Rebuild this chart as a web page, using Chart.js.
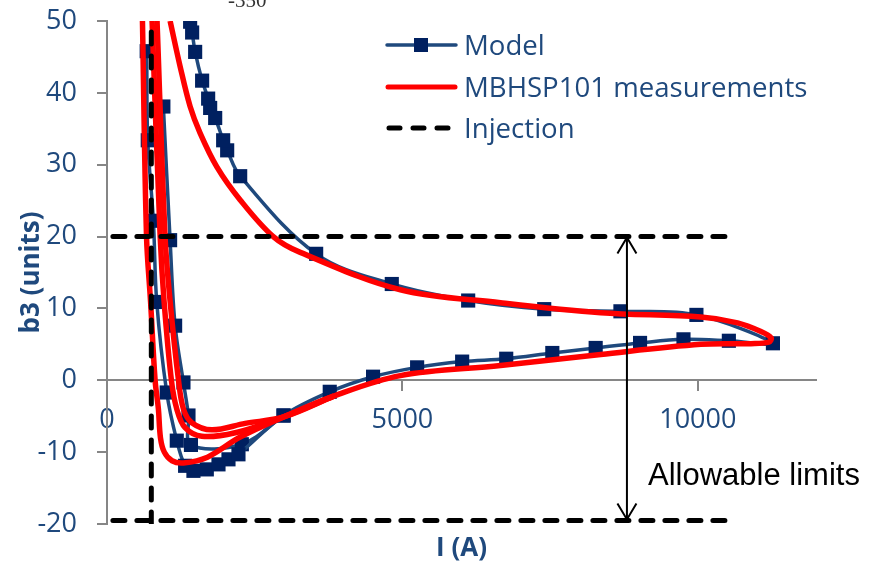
<!DOCTYPE html>
<html>
<head>
<meta charset="utf-8">
<script src="https://cdn.jsdelivr.net/npm/chart.js@4.4.1/dist/chart.umd.min.js"></script>
<style>
  html, body { margin: 0; padding: 0; background: #fff; }
  #wrap { width: 869px; height: 563px; position: relative; }
</style>
</head>
<body>
<div id="wrap"><canvas id="b3Chart"></canvas></div>
<script>
// tick labels
const xTickValues = [0, 5000, 10000];
const yTickValues = [-20, -10, 0, 10, 20, 30, 40, 50];

// Model: main loop (ramp up on the left, lower branch, tip, upper branch back)
const modelLoopI = [672, 690, 785, 842, 1011, 1181, 1322, 1463, 1689, 1887, 2056, 2225,
  2988, 3770, 4503, 5249, 6011, 6757, 7537, 8271, 9022, 9757, 10525, 11271,
  9976, 8690, 7400, 6113, 4820, 3540, 2254, 2034, 1966, 1831, 1746, 1712, 1610, 1492, 1441, 1407];
const modelLoopB = [45.8, 33.4, 22.2, 10.9, -1.7, -8.4, -11.9, -12.6, -12.4, -11.7, -11.0, -10.3,
  -4.9, -1.6, 0.5, 1.8, 2.6, 3.0, 3.8, 4.5, 5.2, 5.7, 5.5, 5.15,
  9.1, 9.6, 9.9, 11.1, 13.4, 17.6, 28.4, 32.0, 33.4, 36.5, 37.9, 39.2, 41.7, 45.7, 48.4, 49.9];
// Model: second ramp-up branch
const modelInnerI = [954, 1068, 1153, 1294, 1379, 1421, 2282, 2988];
const modelInnerB = [38.1, 19.5, 7.6, -0.3, -4.9, -9.0, -8.9, -4.9];

// MBHSP101 measurements: full cycle
const measLoopI = [600, 669, 737, 814, 870, 905, 970, 1100, 1294, 1700, 2254, 2988, 3836,
  4966, 6661, 8356, 10051, 10898, 11200, 11240, 11068, 10672, 10051, 8356, 6661, 4966,
  3271, 2814, 2254, 1859, 1576, 1407, 1237, 1068];
const measLoopB = [50, 20, 11, 0, -4, -8, -10.0, -11.2, -11.5, -10.7, -7.9, -5.1, -2.2,
  0.65, 2.05, 3.6, 5.0, 5.1, 5.3, 5.9, 6.8, 8.0, 8.8, 9.4, 10.8, 12.6,
  17.8, 20.0, 25.1, 29.7, 34.4, 38.1, 43.7, 50];
// MBHSP101 measurements: two further ramp-ups
const measRampBI = [763, 900, 966, 1090, 1181, 1322, 1605, 2169, 2988, 3836];
const measRampBB = [50, 20, 11, 0, -4.0, -6.6, -7.8, -7.3, -5.1, -2.2];
const measRampCI = [847, 983, 1068, 1210, 1294, 1435, 1775, 2339, 2988, 3836];
const measRampCB = [50, 20, 11, 0, -4.0, -5.9, -6.9, -6.0, -5.1, -2.2];

// Injection lines (nulls split the three segments)
const injectionI = [100, 10600, null, 750, 750, null, 100, 10600];
const injectionB = [20, 20, null, -20, 50, null, -19.5, -19.5];

// Allowable limits arrow
const limitsI = [8800, 8800];
const limitsB = [20, -19.5];

const blueText = '#1F497D';
const axisGray = '#868686';

function toPoints(xs, ys) {
  return xs.map((x, i) => ({ x: x, y: ys[i] }));
}

function noScalePadding(axis) {
  axis.paddingTop = 0;
  axis.paddingBottom = 0;
  axis.paddingLeft = 0;
  axis.paddingRight = 0;
}

Chart.defaults.font.family = '"Open Sans", sans-serif';

// legend, titles and the "Allowable limits" note
const extrasPlugin = {
  id: 'extras',
  afterDatasetsDraw(chart) {
    const { ctx, scales } = chart;
    const ax = scales.x.getPixelForValue(limitsI[0]);
    const yTop = scales.y.getPixelForValue(limitsB[0]);
    const yBot = scales.y.getPixelForValue(limitsB[1]);
    ctx.save();
    ctx.strokeStyle = '#000';
    ctx.lineWidth = 2;
    ctx.beginPath();
    ctx.moveTo(ax - 9.5, yTop + 17); ctx.lineTo(ax, yTop + 1); ctx.lineTo(ax + 9.5, yTop + 17);
    ctx.moveTo(ax - 9.5, yBot - 17); ctx.lineTo(ax, yBot - 1); ctx.lineTo(ax + 9.5, yBot - 17);
    ctx.stroke();
    ctx.restore();
  },
  afterDraw(chart) {
    const { ctx, chartArea } = chart;
    ctx.save();
    // legend samples
    ctx.lineCap = 'round';
    ctx.strokeStyle = '#1F497D';
    ctx.lineWidth = 3.5;
    ctx.beginPath(); ctx.moveTo(387, 45); ctx.lineTo(456, 45); ctx.stroke();
    ctx.fillStyle = '#002060';
    ctx.fillRect(414, 38, 14, 14);
    ctx.strokeStyle = '#FF0000';
    ctx.lineWidth = 5;
    ctx.beginPath(); ctx.moveTo(388, 87); ctx.lineTo(455, 87); ctx.stroke();
    ctx.strokeStyle = '#000';
    ctx.setLineDash([11, 13]);
    ctx.beginPath(); ctx.moveTo(389, 128); ctx.lineTo(452, 128); ctx.stroke();
    ctx.setLineDash([]);

    ctx.fillStyle = blueText;
    ctx.font = '27.6px "Open Sans"';
    ctx.textBaseline = 'alphabetic';
    ctx.textAlign = 'left';
    ctx.fillText('Model', 464, 55);
    ctx.fillText('MBHSP101 measurements', 464, 96.5);
    ctx.fillText('Injection', 464, 138);

    // x axis title at the bottom
    ctx.font = 'bold 26px "Open Sans"';
    ctx.textAlign = 'center';
    ctx.fillText('I (A)', (chartArea.left + chartArea.right) / 2, 556);

    // note
    ctx.fillStyle = '#000';
    ctx.font = '31px "Liberation Sans"';
    ctx.textAlign = 'left';
    ctx.fillText('Allowable limits', 648, 485);

    // clipped label at the very top
    ctx.fillStyle = '#333';
    ctx.font = '21px "Liberation Serif"';
    ctx.fillText('-350', 228, 7);
    ctx.restore();
  }
};

const ctx = document.getElementById('b3Chart').getContext('2d');

const b3Chart = new Chart(ctx, {
  type: 'scatter',
  data: {
    datasets: [
      {
        label: 'Allowable limits',
        data: toPoints(limitsI, limitsB),
        showLine: true,
        borderColor: '#000',
        borderWidth: 2,
        pointRadius: 0,
        order: 1
      },
      {
        label: 'Injection',
        data: toPoints(injectionI, injectionB),
        showLine: true,
        borderColor: '#000',
        borderWidth: 5,
        borderDash: [12, 12],
        borderCapStyle: 'round',
        pointRadius: 0,
        order: 2
      },
      {
        label: 'MBHSP101 measurements',
        data: toPoints(measLoopI, measLoopB),
        showLine: true,
        borderColor: '#FF0000',
        borderWidth: 5.5,
        tension: 0.35,
        pointRadius: 0,
        order: 3
      },
      {
        label: 'MBHSP101 measurements',
        data: toPoints(measRampBI, measRampBB),
        showLine: true,
        borderColor: '#FF0000',
        borderWidth: 5.5,
        tension: 0.35,
        pointRadius: 0,
        order: 3
      },
      {
        label: 'MBHSP101 measurements',
        data: toPoints(measRampCI, measRampCB),
        showLine: true,
        borderColor: '#FF0000',
        borderWidth: 5.5,
        tension: 0.35,
        pointRadius: 0,
        order: 3
      },
      {
        label: 'Model',
        data: toPoints(modelLoopI, modelLoopB),
        showLine: true,
        borderColor: '#1F497D',
        borderWidth: 3.5,
        tension: 0.35,
        pointStyle: 'rect',
        pointRadius: 10,
        pointBackgroundColor: '#002060',
        pointBorderColor: '#002060',
        pointBorderWidth: 0,
        order: 5
      },
      {
        label: 'Model',
        data: toPoints(modelInnerI, modelInnerB),
        showLine: true,
        borderColor: '#1F497D',
        borderWidth: 3.5,
        tension: 0.35,
        pointStyle: 'rect',
        pointRadius: 10,
        pointBackgroundColor: '#002060',
        pointBorderColor: '#002060',
        pointBorderWidth: 0,
        order: 5
      }
    ]
  },
  options: {
    responsive: true,
    maintainAspectRatio: false,
    animation: false,
    layout: { padding: { top: 21, right: 53, bottom: 39, left: 0 } },
    plugins: {
      legend: { display: false },
      tooltip: { enabled: false }
    },
    scales: {
      x: {
        type: 'linear',
        position: { y: 0 },
        min: 0,
        max: 12000,
        afterBuildTicks: axis => { axis.ticks = xTickValues.map(v => ({ value: v })); },
        afterFit: noScalePadding,
        border: { color: axisGray, width: 2 },
        grid: { drawOnChartArea: false, color: axisGray, lineWidth: 2, tickLength: 10 },
        ticks: { color: blueText, font: { size: 27 }, padding: 14, maxRotation: 0, callback: v => String(v) }
      },
      y: {
        type: 'linear',
        min: -20,
        max: 50,
        afterBuildTicks: axis => { axis.ticks = yTickValues.map(v => ({ value: v })); },
        afterFit: axis => { noScalePadding(axis); axis.width = 107; },
        border: { color: axisGray, width: 2 },
        grid: { drawOnChartArea: false, color: axisGray, lineWidth: 2, tickLength: 10 },
        ticks: { color: blueText, font: { size: 27 }, padding: 20 },
        title: {
          display: true,
          text: 'b3 (units)',
          color: blueText,
          font: { size: 26, weight: 'bold' },
          padding: { top: 16, bottom: 0 }
        }
      }
    }
  },
  plugins: [extrasPlugin]
});
</script>
</body>
</html>
